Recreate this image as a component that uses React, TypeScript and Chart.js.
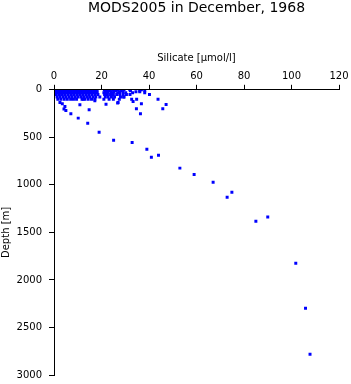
import React, { useEffect, useRef } from 'react';
import { Chart, registerables } from 'chart.js';

Chart.register(...registerables);

const chartTitle = 'MODS2005 in December, 1968';
const xAxisTitle = 'Silicate [µmol/l]';
const yAxisTitle = 'Depth [m]';
const xTickValues = [0, 20, 40, 60, 80, 100, 120];
const yTickValues = [0, 500, 1000, 1500, 2000, 2500, 3000];

// Near-surface standard levels (m) and silicate values observed at each
const levelDepths = [0, 10, 20, 30, 50, 75, 100];
const si0 = [0.8, 1.9, 3.1, 4.2, 5.4, 6.5, 7.7, 8.8, 10.0, 11.1, 12.3, 13.4, 14.6, 15.7, 16.9, 18.0, 21.2, 22.4, 23.5, 24.7, 25.8, 27.0, 29.5, 31.9, 36.8];
const si10 = [1.2, 2.4, 3.6, 4.8, 6.0, 7.2, 8.4, 9.6, 10.8, 12.0, 13.2, 14.4, 15.6, 16.8, 17.9, 21.8, 23.0, 26.1, 28.4, 32.2, 36.1, 38.2];
const si20 = [0.9, 2.2, 3.4, 4.6, 5.9, 7.1, 8.3, 9.5, 10.7, 11.9, 13.1, 14.3, 15.5, 16.7, 18.2, 21.5, 22.7, 24.0, 25.2, 27.6, 29.0, 34.5, 36.1];
const si30 = [1.4, 2.7, 4.0, 5.2, 6.4, 7.6, 8.9, 10.2, 11.4, 12.6, 13.9, 15.1, 16.3, 17.6, 21.0, 22.3, 24.6, 26.8, 30.2, 33.1, 38.2];
const si50 = [1.0, 2.3, 3.5, 4.7, 6.0, 7.3, 8.5, 9.8, 11.0, 12.2, 13.5, 14.7, 16.0, 17.3, 18.5, 21.3, 22.5, 23.8, 25.0, 26.4, 27.7, 29.1, 30.5, 32.0, 40.2];
const si75 = [1.3, 2.5, 3.8, 5.0, 6.3, 7.5, 8.8, 10.0, 11.3, 12.5, 13.8, 15.0, 16.4, 17.6, 19.3, 21.6, 22.8, 24.2, 25.5, 28.0, 29.3, 29.5];
const si100 = [1.6, 2.9, 4.3, 5.6, 7.0, 8.2, 9.5, 11.8, 12.3, 13.0, 14.4, 15.8, 17.2, 21.0, 23.2, 25.0, 27.5, 32.7, 34.8, 43.8];
const levelSilicate = [si0, si10, si20, si30, si50, si75, si100];

// Individual deeper observations
const castSilicate = [2.5, 3.5, 4.6, 4.2, 5.0, 7.1, 10.2, 14.2, 10.9, 14.8, 17.2, 21.9, 26.8, 27.0, 33.3, 34.7, 36.4, 36.8, 45.8, 47.2, 19.0, 25.1, 32.9, 39.1, 41.0, 44.0, 53.0, 59.0, 67.0, 74.9, 72.9, 85.0, 90.0, 101.8, 105.9, 107.8];
const castDepth = [133, 147, 175, 203, 218, 253, 298, 351, 158, 210, 116, 151, 140, 133, 123, 200, 253, 147, 200, 155, 446, 530, 554, 625, 709, 688, 824, 891, 972, 1077, 1130, 1382, 1337, 1825, 2298, 2782];

export default function App() {
  const canvasRef = useRef<HTMLCanvasElement | null>(null);

  useEffect(() => {
    const canvas = canvasRef.current;
    if (!canvas) return;

    const points: { x: number; y: number }[] = [];
    levelDepths.forEach((d, i) => {
      levelSilicate[i].forEach((s) => points.push({ x: s, y: d }));
    });
    castSilicate.forEach((s, i) => points.push({ x: s, y: castDepth[i] }));

    const font = '"DejaVu Sans", Verdana, sans-serif';

    const chart = new Chart(canvas, {
      type: 'scatter',
      data: {
        datasets: [
          {
            data: points,
            pointStyle: 'rect',
            pointRadius: 2.1,
            pointBorderWidth: 0,
            pointBackgroundColor: '#0000ff',
            pointBorderColor: '#0000ff',
            clip: 0,
          },
        ],
      },
      options: {
        responsive: false,
        animation: false,
        devicePixelRatio: 1,
        layout: { padding: { top: 0, left: 0, right: 12, bottom: 9 } },
        plugins: {
          legend: { display: false },
          tooltip: { enabled: false },
          title: {
            display: true,
            text: chartTitle,
            fullSize: false,
            color: '#000',
            font: { family: font, size: 14, weight: 'normal', lineHeight: 1.2 },
            padding: { top: 0, bottom: 0 },
          },
        },
        scales: {
          x: {
            type: 'linear',
            position: 'top',
            min: 0,
            max: 120,
            afterBuildTicks: (s: any) => {
              s.ticks = xTickValues.map((v) => ({ value: v }));
            },
            afterFit: (s: any) => {
              s.height = 73;
              s.paddingLeft = 0;
              s.paddingRight = 0;
            },
            grid: { display: true, drawOnChartArea: false, drawTicks: true, tickLength: 5, color: '#000', lineWidth: 1 },
            border: { display: true, color: '#000', width: 1, z: 1 },
            ticks: {
              color: '#000',
              padding: 2,
              maxRotation: 0,
              font: { family: font, size: 10 },
              callback: (v: any) => String(v),
            },
            title: {
              display: true,
              text: xAxisTitle,
              color: '#000',
              font: { family: font, size: 10 },
              padding: { top: 36, bottom: 0 },
            },
          },
          y: {
            type: 'linear',
            position: 'left',
            reverse: true,
            min: 0,
            max: 3000,
            afterBuildTicks: (s: any) => {
              s.ticks = yTickValues.map((v) => ({ value: v }));
            },
            afterFit: (s: any) => {
              s.width = 54;
              s.paddingTop = 0;
              s.paddingBottom = 0;
            },
            grid: { display: true, drawOnChartArea: false, drawTicks: true, tickLength: 5, color: '#000', lineWidth: 1 },
            border: { display: true, color: '#000', width: 1, z: 1 },
            ticks: {
              color: '#000',
              padding: 7,
              font: { family: font, size: 10 },
              callback: (v: any) => String(v),
            },
            title: {
              display: true,
              text: yAxisTitle,
              color: '#000',
              font: { family: font, size: 10 },
              padding: { top: 0, bottom: 0 },
            },
          },
        },
      },
    });

    return () => chart.destroy();
  }, []);

  return (
    <div style={{ position: 'fixed', left: 0, top: 0, width: 351, height: 384, background: '#fff' }}>
      <canvas ref={canvasRef} width={351} height={384} style={{ width: 351, height: 384, display: 'block' }} />
    </div>
  );
}
